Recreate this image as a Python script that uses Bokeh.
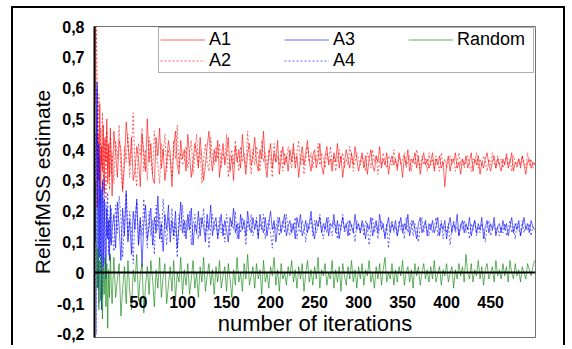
from bokeh.plotting import figure
from bokeh.models import Range1d, Legend, LegendItem, CustomJSTickFormatter, FixedTicker
from bokeh.embed import file_html
from bokeh.resources import INLINE

# iteration index of each sampled point
ITER = list(range(1, 21)) + list(range(22, 501, 2))

A1 = [0.80, 0.52, 0.21, 0.45, 0.30, 0.55, 0.28, 0.41, 0.33, 0.48, 0.26, 0.44, 0.36, 0.50, 0.29, 0.42, 0.31, 0.47, 0.38, 0.25,
      0.46, 0.39, 0.31, 0.43, 0.40, 0.27, 0.35, 0.49, 0.42, 0.35, 0.44, 0.30, 0.33, 0.41, 0.37, 0.28, 0.45, 0.39, 0.33, 0.50,
      0.36, 0.42, 0.31, 0.29, 0.44, 0.38, 0.47, 0.34, 0.40, 0.30, 0.36, 0.43, 0.39, 0.28, 0.41, 0.46, 0.35, 0.32, 0.43, 0.37,
      0.40, 0.33, 0.45, 0.38, 0.31, 0.36, 0.42, 0.39, 0.34, 0.44, 0.37, 0.30, 0.35, 0.41, 0.46, 0.38, 0.33, 0.40, 0.36, 0.43,
      0.31, 0.37, 0.42, 0.35, 0.39, 0.44, 0.33, 0.38, 0.30, 0.41, 0.36, 0.40, 0.34, 0.45, 0.37, 0.32, 0.39, 0.42, 0.35, 0.38,
      0.44, 0.36, 0.33, 0.40, 0.37, 0.46, 0.35, 0.31, 0.38, 0.42, 0.34, 0.39, 0.36, 0.43, 0.32, 0.37, 0.41, 0.35, 0.38, 0.33,
      0.40, 0.36, 0.42, 0.34, 0.38, 0.31, 0.37, 0.41, 0.35, 0.39, 0.43, 0.36, 0.33, 0.38, 0.40, 0.34, 0.37, 0.42, 0.35, 0.32,
      0.38, 0.41, 0.35, 0.37, 0.33, 0.39, 0.36, 0.42, 0.34, 0.38, 0.31, 0.36, 0.40, 0.37, 0.34, 0.39, 0.35, 0.41, 0.37, 0.33,
      0.36, 0.39, 0.34, 0.38, 0.32, 0.37, 0.40, 0.35, 0.33, 0.38, 0.36, 0.41, 0.34, 0.37, 0.35, 0.39, 0.32, 0.36, 0.38, 0.35,
      0.37, 0.34, 0.39, 0.36, 0.31, 0.38, 0.35, 0.40, 0.33, 0.37, 0.36, 0.39, 0.34, 0.38, 0.32, 0.36, 0.39, 0.35, 0.37, 0.34,
      0.36, 0.39, 0.33, 0.37, 0.35, 0.38, 0.34, 0.36, 0.28, 0.35, 0.38, 0.33, 0.37, 0.36, 0.39, 0.34, 0.36, 0.32, 0.37, 0.35,
      0.38, 0.34, 0.36, 0.39, 0.33, 0.37, 0.35, 0.38, 0.32, 0.36, 0.34, 0.37, 0.39, 0.35, 0.33, 0.36, 0.38, 0.34, 0.37, 0.35,
      0.33, 0.37, 0.35, 0.38, 0.34, 0.36, 0.39, 0.33, 0.36, 0.35, 0.37, 0.34, 0.38, 0.35, 0.32, 0.36, 0.37, 0.34, 0.36, 0.35]

A2 = [0.55, 0.80, 0.63, 0.30, 0.58, 0.22, 0.47, 0.35, 0.52, 0.27, 0.43, 0.38, 0.24, 0.46, 0.34, 0.40, 0.27, 0.44, 0.32, 0.39,
      0.29, 0.43, 0.37, 0.48, 0.33, 0.26, 0.41, 0.36, 0.45, 0.31, 0.39, 0.52, 0.34, 0.28, 0.42, 0.38, 0.47, 0.33, 0.40, 0.30,
      0.44, 0.37, 0.32, 0.46, 0.39, 0.35, 0.29, 0.42, 0.38, 0.45, 0.33, 0.40, 0.36, 0.31, 0.43, 0.37, 0.48, 0.34, 0.39, 0.35,
      0.36, 0.41, 0.34, 0.39, 0.43, 0.32, 0.38, 0.45, 0.35, 0.40, 0.29, 0.37, 0.42, 0.36, 0.33, 0.44, 0.38, 0.35, 0.41, 0.37,
      0.42, 0.34, 0.39, 0.36, 0.45, 0.31, 0.37, 0.40, 0.35, 0.43, 0.38, 0.33, 0.41, 0.36, 0.39, 0.34, 0.46, 0.37, 0.32, 0.40,
      0.35, 0.41, 0.38, 0.33, 0.43, 0.36, 0.39, 0.34, 0.40, 0.37, 0.31, 0.42, 0.36, 0.38, 0.35, 0.40, 0.33, 0.39, 0.36, 0.41,
      0.37, 0.34, 0.40, 0.36, 0.39, 0.43, 0.35, 0.38, 0.32, 0.37, 0.41, 0.36, 0.39, 0.34, 0.38, 0.36, 0.42, 0.35, 0.39, 0.37,
      0.34, 0.39, 0.36, 0.41, 0.35, 0.38, 0.33, 0.37, 0.40, 0.36, 0.39, 0.34, 0.37, 0.35, 0.41, 0.38, 0.33, 0.36, 0.39, 0.37,
      0.35, 0.38, 0.36, 0.33, 0.39, 0.37, 0.34, 0.40, 0.36, 0.38, 0.32, 0.37, 0.35, 0.39, 0.36, 0.34, 0.38, 0.37, 0.35, 0.40,
      0.36, 0.33, 0.38, 0.35, 0.37, 0.39, 0.34, 0.36, 0.38, 0.33, 0.37, 0.35, 0.40, 0.36, 0.34, 0.38, 0.35, 0.37, 0.33, 0.39,
      0.35, 0.37, 0.34, 0.38, 0.36, 0.33, 0.39, 0.35, 0.37, 0.34, 0.36, 0.38, 0.35, 0.37, 0.33, 0.36, 0.39, 0.35, 0.37, 0.34,
      0.36, 0.38, 0.35, 0.33, 0.37, 0.36, 0.39, 0.34, 0.37, 0.35, 0.38, 0.36, 0.33, 0.37, 0.35, 0.39, 0.36, 0.34, 0.38, 0.35,
      0.37, 0.34, 0.36, 0.39, 0.35, 0.37, 0.33, 0.38, 0.36, 0.34, 0.37, 0.35, 0.38, 0.36, 0.34, 0.39, 0.35, 0.37, 0.34, 0.36]

A3 = [0.10, 0.35, 0.62, -0.05, 0.42, 0.05, 0.28, -0.12, 0.30, 0.02, 0.24, 0.08, -0.02, 0.21, 0.11, 0.17, 0.04, 0.22, 0.09, 0.14,
      0.19, 0.08, 0.23, 0.15, 0.04, 0.21, 0.12, 0.26, 0.10, 0.17, 0.06, 0.20, 0.14, 0.24, 0.09, 0.18, 0.02, 0.16, 0.22, 0.11,
      0.15, 0.21, 0.09, 0.18, 0.13, 0.25, 0.11, 0.16, 0.07, 0.19, 0.14, 0.22, 0.10, 0.17, 0.12, 0.20, 0.08, 0.15, 0.23, 0.13,
      0.17, 0.11, 0.19, 0.14, 0.21, 0.09, 0.16, 0.13, 0.20, 0.12, 0.18, 0.15, 0.10, 0.19, 0.14, 0.22, 0.12, 0.16, 0.18, 0.11,
      0.15, 0.19, 0.12, 0.17, 0.14, 0.10, 0.18, 0.15, 0.21, 0.13, 0.16, 0.11, 0.19, 0.14, 0.17, 0.12, 0.20, 0.15, 0.13, 0.18,
      0.14, 0.17, 0.11, 0.19, 0.15, 0.13, 0.18, 0.12, 0.16, 0.20, 0.14, 0.17, 0.10, 0.15, 0.18, 0.13, 0.16, 0.19, 0.12, 0.15,
      0.17, 0.13, 0.16, 0.11, 0.18, 0.15, 0.19, 0.12, 0.14, 0.17, 0.13, 0.16, 0.20, 0.14, 0.11, 0.17, 0.15, 0.18, 0.13, 0.16,
      0.14, 0.18, 0.12, 0.16, 0.15, 0.19, 0.13, 0.17, 0.11, 0.15, 0.18, 0.14, 0.16, 0.12, 0.17, 0.15, 0.13, 0.19, 0.14, 0.16,
      0.13, 0.17, 0.15, 0.11, 0.16, 0.14, 0.18, 0.12, 0.15, 0.17, 0.13, 0.19, 0.14, 0.16, 0.11, 0.15, 0.18, 0.13, 0.16, 0.14,
      0.17, 0.12, 0.15, 0.18, 0.13, 0.16, 0.14, 0.19, 0.12, 0.15, 0.17, 0.14, 0.11, 0.16, 0.18, 0.13, 0.15, 0.17, 0.12, 0.16,
      0.14, 0.17, 0.13, 0.15, 0.18, 0.12, 0.16, 0.14, 0.17, 0.11, 0.15, 0.18, 0.13, 0.16, 0.14, 0.19, 0.12, 0.15, 0.17, 0.13,
      0.16, 0.14, 0.18, 0.12, 0.15, 0.17, 0.13, 0.16, 0.14, 0.18, 0.11, 0.15, 0.17, 0.13, 0.16, 0.14, 0.18, 0.12, 0.15, 0.16,
      0.13, 0.17, 0.14, 0.16, 0.12, 0.15, 0.18, 0.13, 0.16, 0.14, 0.17, 0.12, 0.15, 0.18, 0.14, 0.16, 0.13, 0.17, 0.15, 0.14]

A4 = [0.45, -0.20, 0.60, 0.15, -0.10, 0.38, 0.00, 0.27, -0.08, 0.19, 0.31, 0.03, 0.23, 0.12, 0.26, 0.06, 0.18, 0.10, 0.21, 0.13,
      0.07, 0.22, 0.13, 0.25, 0.18, 0.05, 0.16, 0.27, 0.11, 0.20, 0.14, 0.03, 0.19, 0.23, 0.09, 0.17, 0.12, 0.24, 0.15, 0.08,
      0.20, 0.12, 0.17, 0.06, 0.22, 0.14, 0.19, 0.10, 0.24, 0.15, 0.09, 0.18, 0.13, 0.21, 0.11, 0.16, 0.05, 0.19, 0.14, 0.22,
      0.12, 0.17, 0.14, 0.20, 0.09, 0.16, 0.19, 0.13, 0.11, 0.18, 0.15, 0.21, 0.12, 0.17, 0.08, 0.15, 0.19, 0.14, 0.16, 0.12,
      0.18, 0.13, 0.16, 0.10, 0.19, 0.15, 0.12, 0.17, 0.14, 0.20, 0.11, 0.16, 0.13, 0.18, 0.15, 0.09, 0.17, 0.14, 0.19, 0.12,
      0.15, 0.18, 0.12, 0.16, 0.14, 0.19, 0.11, 0.15, 0.17, 0.13, 0.08, 0.16, 0.14, 0.18, 0.12, 0.15, 0.17, 0.13, 0.19, 0.14,
      0.12, 0.16, 0.14, 0.18, 0.11, 0.15, 0.13, 0.17, 0.15, 0.10, 0.16, 0.14, 0.18, 0.12, 0.17, 0.13, 0.15, 0.19, 0.14, 0.11,
      0.16, 0.13, 0.18, 0.14, 0.12, 0.17, 0.15, 0.11, 0.16, 0.14, 0.19, 0.13, 0.15, 0.17, 0.12, 0.16, 0.14, 0.10, 0.17, 0.15,
      0.13, 0.16, 0.12, 0.17, 0.15, 0.09, 0.14, 0.18, 0.13, 0.16, 0.11, 0.15, 0.17, 0.14, 0.12, 0.16, 0.08, 0.15, 0.17, 0.13,
      0.15, 0.12, 0.17, 0.14, 0.16, 0.11, 0.18, 0.13, 0.15, 0.17, 0.12, 0.16, 0.14, 0.10, 0.15, 0.18, 0.13, 0.16, 0.14, 0.12,
      0.16, 0.13, 0.15, 0.18, 0.12, 0.14, 0.17, 0.11, 0.15, 0.13, 0.16, 0.09, 0.14, 0.17, 0.13, 0.15, 0.12, 0.16, 0.14, 0.17,
      0.13, 0.15, 0.11, 0.16, 0.14, 0.17, 0.12, 0.15, 0.13, 0.16, 0.14, 0.10, 0.15, 0.17, 0.12, 0.14, 0.16, 0.13, 0.15, 0.12,
      0.15, 0.13, 0.16, 0.12, 0.14, 0.17, 0.13, 0.15, 0.11, 0.16, 0.14, 0.12, 0.17, 0.13, 0.15, 0.14, 0.16, 0.12, 0.15, 0.14]

RANDOM = [0.30, 0.10, -0.05, 0.08, -0.12, 0.04, -0.09, 0.06, -0.15, 0.02, -0.07, 0.05, -0.11, 0.03, -0.18, 0.01, -0.08, 0.06, -0.04, -0.10,
          0.05, -0.08, -0.02, 0.03, -0.14, -0.05, 0.02, -0.10, 0.04, -0.06, -0.12, 0.01, -0.03, 0.06, -0.09, -0.01, 0.03, -0.13, -0.04, 0.02,
          -0.07, 0.04, -0.02, -0.11, 0.01, -0.05, 0.05, -0.08, -0.01, 0.03, -0.10, -0.04, 0.02, -0.06, 0.04, -0.09, 0.00, -0.03, 0.05, -0.07,
          0.01, -0.04, 0.03, -0.07, -0.02, 0.04, -0.05, 0.00, -0.08, 0.02, -0.03, 0.05, -0.06, -0.01, 0.03, -0.04, 0.01, -0.07, 0.02, -0.03,
          0.04, -0.05, -0.01, 0.02, -0.06, 0.03, -0.02, -0.08, 0.01, -0.04, 0.05, -0.03, 0.00, -0.06, 0.03, -0.02, 0.06, -0.04, -0.01, 0.02,
          -0.05, 0.03, -0.02, 0.01, -0.07, 0.04, -0.03, 0.00, -0.05, 0.02, -0.01, 0.05, -0.04, 0.01, -0.06, 0.03, -0.02, 0.00, -0.04, 0.02,
          -0.01, 0.04, -0.03, 0.01, -0.05, 0.02, -0.02, 0.03, -0.06, 0.00, 0.04, -0.03, 0.01, -0.04, 0.02, -0.02, 0.05, -0.05, 0.01, -0.01,
          0.03, -0.04, 0.00, -0.02, 0.04, -0.05, 0.01, -0.03, 0.02, -0.06, 0.03, -0.01, -0.04, 0.02, -0.02, 0.04, -0.03, 0.01, -0.05, 0.02,
          -0.02, 0.03, -0.04, 0.01, -0.01, 0.04, -0.03, 0.00, -0.05, 0.02, -0.02, 0.03, -0.04, 0.01, 0.05, -0.03, 0.00, -0.02, 0.03, -0.04,
          0.01, -0.03, 0.02, -0.01, 0.04, -0.04, 0.00, 0.02, -0.03, 0.01, -0.05, 0.03, -0.01, 0.02, -0.04, 0.00, 0.03, -0.02, 0.01, -0.03,
          0.02, -0.02, 0.04, -0.03, 0.00, 0.02, -0.04, 0.01, -0.01, 0.03, -0.03, 0.00, 0.02, -0.05, 0.01, -0.02, 0.03, -0.01, 0.02, -0.03,
          0.06, 0.00, -0.02, 0.03, -0.03, 0.01, -0.01, 0.04, -0.02, 0.02, -0.04, 0.01, 0.03, -0.02, 0.00, 0.02, -0.03, 0.04, -0.01, 0.01,
          -0.02, 0.03, -0.01, 0.02, -0.03, 0.04, 0.00, -0.02, 0.03, -0.01, 0.01, -0.03, 0.02, 0.00, -0.02, 0.03, 0.01, -0.01, 0.02, 0.04]

X_TICKS = [50, 100, 150, 200, 250, 300, 350, 400, 450]
Y_TICKS = [-0.2, -0.1, 0.0, 0.1, 0.2, 0.3, 0.4, 0.5, 0.6, 0.7, 0.8]

FONT = "Liberation Sans"

p = figure(width=554, height=339, output_backend="svg", toolbar_location=None,
           x_range=Range1d(0, 501), y_range=Range1d(-0.21, 0.80),
           min_border_left=81, min_border_right=32, min_border_top=18, min_border_bottom=10)
# outer black frame of the picture (left, top and right edges)
p.styles = {"margin-left": "11px", "margin-top": "6px",
            "border-top": "2px solid black", "border-left": "2px solid black",
            "border-right": "2px solid black"}
p.grid.visible = False
p.outline_line_color = "#707070"
p.outline_line_width = 1
p.background_fill_color = "white"
p.border_fill_color = "white"

series = [("A1", A1, "#ff0000", "solid"), ("A2", A2, "#ff0000", "2 2"),
          ("A3", A3, "#0000ff", "solid"), ("A4", A4, "#0000ff", "2 2"),
          ("Random", RANDOM, "#008000", "solid")]
items = {}
for name, ys, col, dash in series:
    xs = ITER[:len(ys)]
    r = p.line(xs, ys[:len(xs)], line_color=col, line_width=1, line_alpha=0.6, line_dash=dash)
    items[name] = r

legend = Legend(items=[LegendItem(label=n, renderers=[items[n]]) for n in ["A1", "A2", "A3", "A4", "Random"]],
                location="top_right", nrows=2, orientation="vertical",
                glyph_width=45, glyph_height=19, label_standoff=4, label_width=75, label_height=19,
                spacing=0, padding=1, margin=1,
                label_text_font=FONT, label_text_font_size="18px", label_text_color="black",
                border_line_color="#606060", border_line_width=1, background_fill_color="white",
                background_fill_alpha=1.0)
p.add_layout(legend)

# x axis drawn at y = 0
xa = p.xaxis[0]
xa.fixed_location = 0
xa.ticker = FixedTicker(ticks=X_TICKS)
xa.axis_line_color = "black"
xa.axis_line_width = 2
xa.major_tick_line_color = None
xa.minor_tick_line_color = None
xa.major_label_standoff = 17
xa.major_label_text_font = FONT
xa.major_label_text_font_style = "bold"
xa.major_label_text_font_size = "16px"
xa.major_label_text_color = "black"
xa.axis_label = "number of iterations"
xa.axis_label_text_font = FONT
xa.axis_label_text_font_style = "normal"
xa.axis_label_text_font_size = "22px"
xa.axis_label_text_color = "black"
xa.axis_label_standoff = 0

ya = p.yaxis[0]
ya.ticker = FixedTicker(ticks=Y_TICKS)
ya.formatter = CustomJSTickFormatter(code="if (Math.abs(tick) < 1e-9) { return '0'; } return tick.toFixed(1).replace('.', ',');")
ya.axis_line_color = "black"
ya.axis_line_width = 2
ya.major_tick_line_color = None
ya.minor_tick_line_color = None
ya.major_label_standoff = 4
ya.major_label_text_font = FONT
ya.major_label_text_font_style = "bold"
ya.major_label_text_font_size = "16px"
ya.major_label_text_color = "black"
ya.axis_label = "ReliefMSS estimate"
ya.axis_label_text_font = FONT
ya.axis_label_text_font_style = "normal"
ya.axis_label_text_font_size = "21px"
ya.axis_label_text_color = "black"
ya.axis_label_standoff = 0

open("out.html", "w").write(file_html(p, INLINE))
